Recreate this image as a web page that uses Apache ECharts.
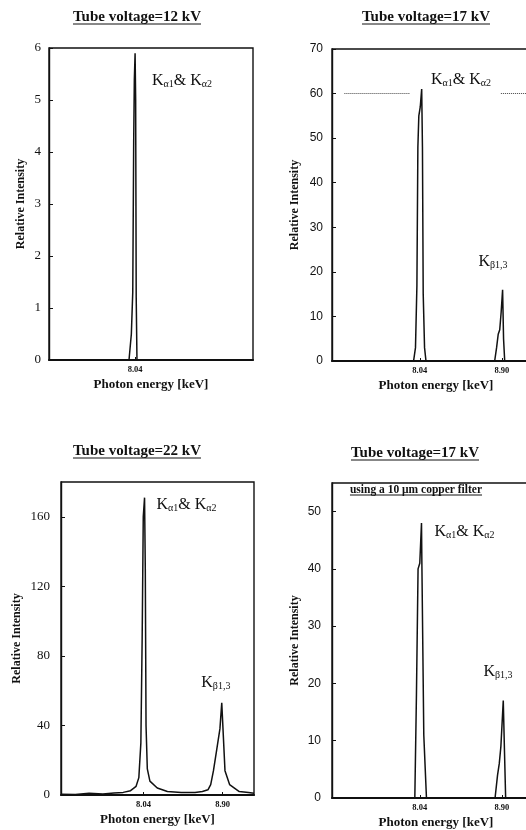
<!DOCTYPE html>
<html>
<head>
<meta charset="utf-8">
<script src="https://cdn.jsdelivr.net/npm/echarts@6/dist/echarts.min.js"></script>
<style>
html, body { margin: 0; padding: 0; background: #fff; }
#chart { width: 526px; height: 830px; }
</style>
</head>
<body>
<div id="chart"></div>
<script>
// panel titles
var titles = ['Tube voltage=12 kV', 'Tube voltage=17 kV', 'Tube voltage=22 kV', 'Tube voltage=17 kV'];
var filterNote = 'using a 10 \u03bcm copper filter';
var xTicks = [8.04, 8.90];

// 12 kV
var energy12 = [7.12, 7.60, 7.975, 8.000, 8.015, 8.025, 8.032, 8.040, 8.046, 8.052, 8.060, 8.50, 9.30];
var intensity12 = [0, 0, 0, 0.5, 1.3, 4.2, 5.4, 5.9, 5.0, 1.2, 0, 0, 0];

// 17 kV
var energy17 = [7.12, 7.60, 7.975, 7.995, 8.010, 8.020, 8.030, 8.045, 8.060, 8.068, 8.076, 8.090, 8.105, 8.50,
    8.825, 8.845, 8.862, 8.878, 8.893, 8.908, 8.918, 8.930, 9.30];
var intensity17 = [0, 0, 0, 3, 17, 48, 55, 57, 61, 48, 15, 3, 0, 0,
    0, 3, 6, 7, 11, 16, 5, 0, 0];

// 22 kV
var energy22 = [7.15, 7.30, 7.45, 7.60, 7.72, 7.82, 7.90, 7.96, 7.99, 8.012, 8.026, 8.038, 8.052, 8.060, 8.068,
    8.082, 8.110, 8.190, 8.300, 8.450, 8.600, 8.680, 8.740, 8.770, 8.800, 8.835, 8.870, 8.890, 8.925, 8.975, 9.080, 9.180, 9.240];
var intensity22 = [0.5, 0.3, 1, 0.6, 1.2, 1.5, 2.5, 5, 10, 30, 90, 160, 171, 130, 40,
    15, 8, 4, 2, 1.5, 1.5, 2, 3, 6, 14, 26, 38, 53, 14, 6, 2, 1.5, 1];

// 17 kV with copper filter
var energyFilt = [7.12, 7.60, 7.960, 7.988, 8.005, 8.022, 8.040, 8.058, 8.062, 8.082, 8.110, 8.50,
    8.829, 8.855, 8.873, 8.890, 8.915, 8.928, 8.940, 9.30];
var intensityFilt = [0, 0, 0, 0, 18, 40, 41, 48, 41, 11, 0, 0,
    0, 4, 6, 9, 17, 8, 0, 0];

// dotted reference level in the 17 kV panel
var refLevel17 = 60;
var refSpans17 = [[7.25, 7.94], [8.89, 9.30]];

var serif = '"Liberation Serif", "DejaVu Serif", serif';
var sans = '"Liberation Sans", Arial, sans-serif';
var ink = '#111';

var chart = echarts.init(document.getElementById('chart'));

function pairs(xs, ys) {
    return xs.map(function(x, i) { return [x, ys[i]]; });
}

var kAlpha = '{k|K}{s|\u03b11}{k|& K}{s|\u03b12}';
var kBeta = '{k|K}{s|\u03b21,3}';
var richK = {
    k: { fontFamily: serif, fontSize: 16, lineHeight: 17, color: ink },
    s: { fontFamily: serif, fontSize: 10, lineHeight: 8, verticalAlign: 'bottom', color: ink }
};

function peakLabels(list) {
    return {
        symbol: 'circle',
        symbolSize: 0,
        silent: true,
        label: { show: true, position: 'inside', rich: richK },
        data: list.map(function(p) {
            return { coord: [p[0], p[1]], label: { formatter: p[2] } };
        })
    };
}

var grids = [
    { left: 49, top: 48, width: 204, height: 312 },
    { left: 332, top: 49, width: 208, height: 312 },
    { left: 61, top: 482, width: 193, height: 313 },
    { left: 332, top: 483, width: 208, height: 315 }
];
grids.forEach(function(g) {
    g.show = true;
    g.borderColor = ink;
    g.borderWidth = 1.4;
    g.containLabel = false;
    g.outerBoundsMode = 'none';
});

var xRanges = [[7.12, 9.30], [7.12, 9.30], [7.145, 9.24], [7.12, 9.30]];
var xTickSets = [[8.04], xTicks, xTicks, xTicks];
var xAxes = xRanges.map(function(r, i) {
    return {
        type: 'value', gridIndex: i, min: r[0], max: r[1],
        name: 'Photon energy [keV]', nameLocation: 'middle', nameGap: 18,
        nameTextStyle: { fontFamily: serif, fontWeight: 'bold', fontSize: 13, color: ink },
        axisLine: { lineStyle: { color: ink, width: 2 } },
        axisTick: { show: true, inside: true, length: 3, customValues: xTickSets[i], lineStyle: { color: ink } },
        axisLabel: { customValues: xTickSets[i], formatter: function(v) { return v.toFixed(2); },
            fontFamily: serif, fontWeight: 'bold', fontSize: 8.5, color: ink, margin: 5 },
        splitLine: { show: false }
    };
});

var yMax = [6, 70, 180, 55];
var yStep = [1, 10, 40, 10];
var yFonts = [serif, sans, serif, sans];
var yGaps = [22, 31, 38, 31];
var yMargins = [8, 9, 11, 11];
var yAxes = yMax.map(function(m, i) {
    return {
        type: 'value', gridIndex: i, min: 0, max: m, interval: yStep[i],
        name: 'Relative Intensity', nameLocation: 'middle', nameGap: yGaps[i],
        nameTextStyle: { fontFamily: serif, fontWeight: 'bold', fontSize: 12, color: ink },
        axisLine: { show: true, lineStyle: { color: ink, width: 1.4 } },
        axisTick: { show: true, inside: true, length: 4, lineStyle: { color: ink } },
        axisLabel: { fontFamily: yFonts[i], fontSize: i % 2 ? 12 : 13, color: ink, margin: yMargins[i],
            showMaxLabel: m % yStep[i] === 0 },
        splitLine: { show: false }
    };
});

function spectrum(i, xs, ys, extra) {
    var s = {
        type: 'line', xAxisIndex: i, yAxisIndex: i,
        data: pairs(xs, ys), showSymbol: false, animation: false,
        lineStyle: { color: ink, width: 1.5 }
    };
    for (var k in extra) s[k] = extra[k];
    return s;
}

var series = [
    spectrum(0, energy12, intensity12, {
        markPoint: peakLabels([[8.541, 5.37, kAlpha]])
    }),
    spectrum(1, energy17, intensity17, {
        markPoint: peakLabels([[8.472, 63.0, kAlpha], [8.807, 22.2, kBeta]]),
        markLine: {
            silent: true, symbol: 'none', label: { show: false },
            lineStyle: { type: 'dotted', color: '#444', width: 1 },
            data: refSpans17.map(function(s) {
                return [{ coord: [s[0], refLevel17] }, { coord: [s[1], refLevel17] }];
            })
        }
    }),
    spectrum(2, energy22, intensity22, {
        markPoint: peakLabels([[8.507, 166.8, kAlpha], [8.826, 64.4, kBeta]])
    }),
    spectrum(3, energyFilt, intensityFilt, {
        markPoint: peakLabels([[8.509, 46.4, kAlpha], [8.860, 22.0, kBeta]])
    })
];

// underlined titles: measure the text so the rule matches it
var ctx = document.createElement('canvas').getContext('2d');
function underlined(text, cx, cy, size, gap) {
    ctx.font = 'bold ' + size + 'px ' + serif;
    var w = ctx.measureText(text).width;
    return [{
        type: 'text', x: cx, y: cy,
        style: { text: text, align: 'center', verticalAlign: 'middle',
            fontFamily: serif, fontWeight: 'bold', fontSize: size, fill: ink }
    }, {
        type: 'line', shape: { x1: cx - w / 2, y1: cy + gap, x2: cx + w / 2, y2: cy + gap },
        style: { stroke: ink, lineWidth: 1 }
    }];
}

var titlePos = [[137, 17], [426, 17], [137, 451], [415, 453]];
var graphics = [];
titles.forEach(function(t, i) {
    graphics = graphics.concat(underlined(t, titlePos[i][0], titlePos[i][1], 15, 7));
});
graphics = graphics.concat(underlined(filterNote, 416, 490, 11.5, 5));

chart.setOption({
    animation: false,
    backgroundColor: '#fff',
    grid: grids,
    xAxis: xAxes,
    yAxis: yAxes,
    series: series,
    graphic: graphics
});
</script>
</body>
</html>
